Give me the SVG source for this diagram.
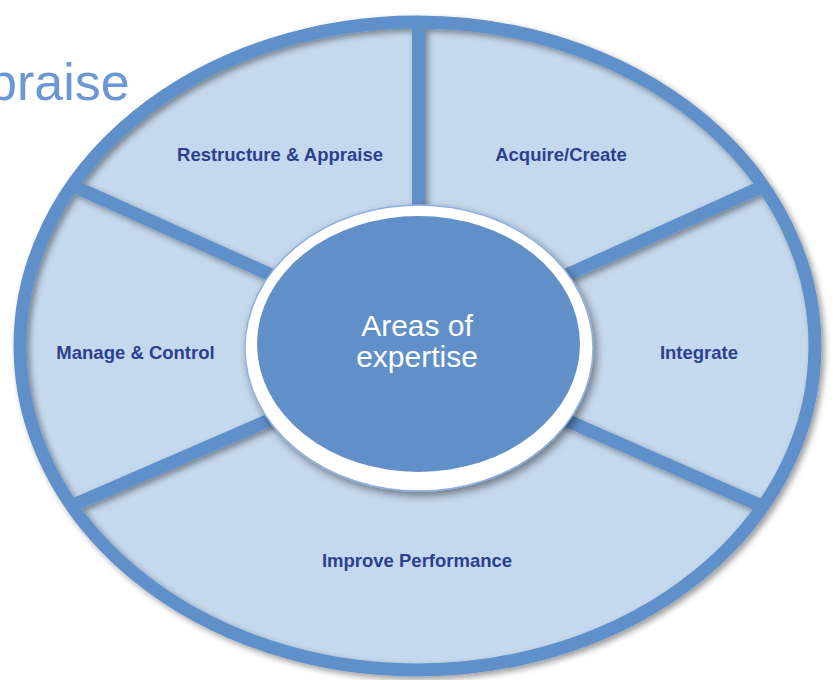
<svg xmlns="http://www.w3.org/2000/svg" width="838" height="680" viewBox="0 0 838 680">
  <defs>
    <style>
      .label { font-family: "Liberation Sans", Arial, sans-serif; font-weight: bold; font-size: 18.5px; fill: #2d3f8f; text-anchor: middle; }
      .center { font-family: "Liberation Sans", Arial, sans-serif; font-size: 30px; fill: #ffffff; text-anchor: middle; }
      .title { font-family: "Liberation Sans", Arial, sans-serif; font-size: 52px; fill: #6c97d2; }
      .divider { stroke: #6190c9; stroke-width: 13; fill: none; }
    </style>
    <clipPath id="outerClip">
      <ellipse cx="417.5" cy="346" rx="397.5" ry="324"/>
    </clipPath>
    <filter id="shadow" x="-10%" y="-10%" width="120%" height="120%">
      <feDropShadow dx="3" dy="3" stdDeviation="3" flood-color="#000000" flood-opacity="0.4"/>
    </filter>
    <filter id="shadow2" x="-20%" y="-20%" width="140%" height="140%">
      <feDropShadow dx="3" dy="4" stdDeviation="4" flood-color="#000000" flood-opacity="0.45"/>
    </filter>
  </defs>

  <rect width="838" height="680" fill="#ffffff"/>

  <text class="title" x="-12" y="100">praise</text>

  <ellipse id="wheel-fill" cx="417.5" cy="346" rx="397.5" ry="324" fill="#c5d9ee"/>

  <g id="connectors" filter="url(#shadow)">
    <g clip-path="url(#outerClip)">
      <line class="divider" x1="418.5" y1="0" x2="418.5" y2="250"/>
      <line class="divider" x1="40" y1="171" x2="300" y2="288"/>
      <line class="divider" x1="800" y1="169.6" x2="540" y2="287"/>
      <line class="divider" x1="800" y1="522.9" x2="540" y2="408.8"/>
      <line class="divider" x1="40" y1="519.4" x2="300" y2="406.8"/>
    </g>
    <ellipse cx="417.5" cy="346" rx="397.5" ry="324" fill="none" stroke="#6190c9" stroke-width="13"/>
  </g>

  <g id="restructure">
    <text class="label" x="280" y="161">Restructure &amp; Appraise</text>
  </g>
  <g id="acquire">
    <text class="label" x="561" y="161">Acquire/Create</text>
  </g>
  <g id="manage">
    <text class="label" x="135.5" y="359">Manage &amp; Control</text>
  </g>
  <g id="integrate">
    <text class="label" x="699" y="359">Integrate</text>
  </g>
  <g id="improve">
    <text class="label" x="417" y="567">Improve Performance</text>
  </g>

  <g id="areas-of-expertise">
    <ellipse cx="419" cy="348" rx="174" ry="143" fill="#ffffff" stroke="#8db0dd" stroke-width="1.5" filter="url(#shadow2)"/>
    <ellipse cx="418.5" cy="344" rx="161.5" ry="128" fill="#6190c9"/>
    <text class="center" x="417" y="336">Areas of</text>
    <text class="center" x="417" y="367">expertise</text>
  </g>
</svg>
